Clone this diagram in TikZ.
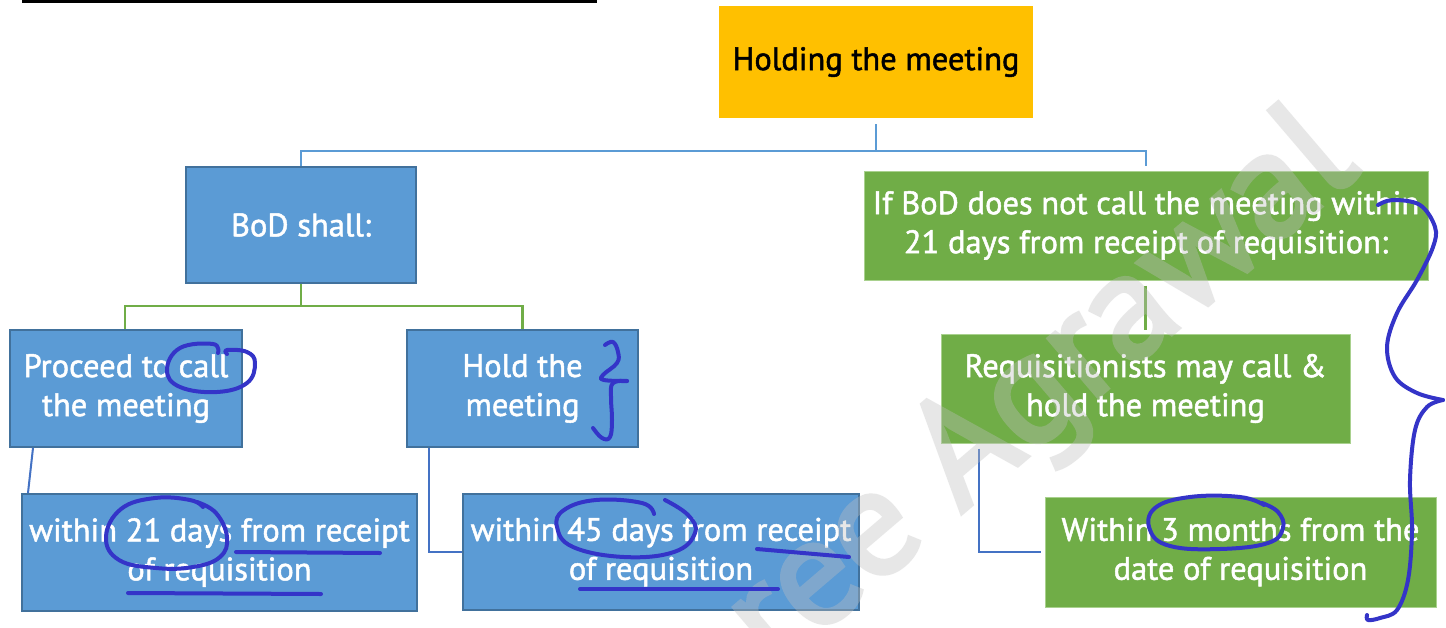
\documentclass[tikz,border=0pt]{standalone}
\usepackage{fontspec}
\setmainfont{PT Sans}
\newfontfamily\boxfont[FakeBold=1.5]{PT Sans}
\newfontfamily\markfont[FakeBold=3]{PT Sans}
\definecolor{boxblue}{HTML}{5B9BD5}
\definecolor{boxblueedge}{HTML}{41719C}
\definecolor{boxgreen}{HTML}{70AD47}
\definecolor{boxgreenedge}{HTML}{A9D18E}
\definecolor{boxorange}{HTML}{FFC000}
\definecolor{linkdark}{HTML}{4472C4}
\definecolor{ink}{HTML}{3434C8}
\definecolor{wmgray}{HTML}{BFBFBF}
\tikzset{
  box/.style={rectangle, inner sep=0pt, align=center,
    font=\boxfont\fontsize{32.5}{39}\selectfont, text=white},
  bluebox/.style={box, fill=boxblue, draw=boxblueedge, line width=2pt},
  greenbox/.style={box, fill=boxgreen, draw=boxgreenedge, line width=1pt},
  orangebox/.style={box, fill=boxorange, text=black},
  linkblue/.style={draw=boxblue, line width=2.5pt},
  linkgreen/.style={draw=boxgreen, line width=2.5pt},
  linklow/.style={draw=linkdark, line width=2pt},
  inkstroke/.style={draw=ink, line width=4pt, line cap=round, line join=round},
}
\begin{document}
\begin{tikzpicture}[x=1pt,y=-1pt]
\useasboundingbox (0,0) rectangle (1446,627);
\fill[white] (0,0) rectangle (1446,627);

% rule along the top edge
\draw[line width=3pt] (22,1.5) -- (597,1.5);

% boxes
\node[orangebox, minimum width=314pt, minimum height=112pt] (top) at (876,62) {Holding the meeting};
\node[bluebox, minimum width=230pt, minimum height=116pt] (bod) at (301,225) {BoD shall:};
\node[bluebox, minimum width=232pt, minimum height=117pt] (proc) at (126,388.5) {Proceed to call\\the meeting};
\node[bluebox, minimum width=231pt, minimum height=117pt] (hold) at (522.5,388.5) {Hold the\\meeting};
\node[bluebox, minimum width=395pt, minimum height=117pt] (wa) at (219.5,552.5) {within 21 days from receipt\\of requisition};
\node[bluebox, minimum width=396pt, minimum height=116pt] (wb) at (661,552) {within 45 days from receipt\\of requisition};
\node[greenbox, minimum width=564pt, minimum height=109pt] (ifbod) at (1146,225.5) {If BoD does not call the meeting within\\21 days from receipt of requisition:};
\node[greenbox, minimum width=409pt, minimum height=109pt] (req) at (1145.5,388.5) {Requisitionists may call \&\\hold the meeting};
\node[greenbox, minimum width=391pt, minimum height=110pt] (wc) at (1240.5,552) {Within 3 months from the\\date of requisition};

% connectors
\draw[linkblue] (top.south) ++(0,6) -- ++(0,27) -| (bod.north);
\draw[linkblue, shorten >=5pt] (top.south) ++(0,6) -- ++(0,27) -| (ifbod.north);
\draw[linkgreen] (bod.south) -- ++(0,22) -| ([xshift=-1pt]proc.north);
\draw[linkgreen] (bod.south) -- ++(0,22) -| (hold.north);
\draw[linklow] ([xshift=24pt]proc.south west) -- ([xshift=7pt]wa.north west);
\draw[linklow] ([xshift=23pt]hold.south west) |- (wb.west);
\draw[linkgreen] ([yshift=-5pt]ifbod.south -| req.north) -- ([yshift=4pt]req.north);
\draw[linklow] ([xshift=38pt,yshift=-5pt]req.south west) |- ([xshift=-4pt]wc.west);

% watermark, drawn as one translucent layer
\begin{scope}
\clip (0,0) rectangle (1446,627);
\begin{scope}[transparency group, opacity=0.36]
\node[rotate=40.5, anchor=base east, inner sep=0pt, text=wmgray,
  font=\markfont\fontsize{152}{152}\selectfont] (wm) at (1362,171) {ree Agrawal};
\end{scope}
\end{scope}

% handwritten marks
\draw[inkstroke] plot[smooth, tension=0.7] coordinates {(218,353) (213,344) (180,348) (167,370) (180,387) (217,392) (247,383) (255,363) (247,352) (227,350) (227,354)};
\draw[inkstroke] plot[smooth, tension=0.7] coordinates {(605,345) (613,342) (618,352) (617,363) (603,375) (604,380) (627,381)};
\draw[inkstroke] plot[smooth, tension=0.7] coordinates {(627,381) (613,383) (611,397) (612,420) (610,437) (602,438) (593,428)};
\draw[inkstroke] plot[smooth, tension=0.7] coordinates {(203,507) (190,500) (155,498) (121,509) (106,537) (119,560) (156,568) (193,567) (220,557) (227,537) (216,513) (197,502)};
\draw[inkstroke] (236,552) -- (380,553);
\draw[inkstroke] (128,593) -- (321,594);
\draw[inkstroke] plot[smooth, tension=0.7] coordinates {(654,514) (642,503) (596,500) (564,510) (557,527) (573,547) (624,557) (674,552) (695,533) (688,515) (665,500)};
\draw[inkstroke] (757,549) -- (849,557);
\draw[inkstroke] (580,589) -- (778,589);
\draw[inkstroke] plot[smooth, tension=0.7] coordinates {(1264,505) (1240,497) (1190,497) (1155,508) (1150,530) (1170,546) (1220,549) (1268,543) (1283,528) (1278,512) (1262,503)};
\draw[inkstroke] plot[smooth, tension=0.6] coordinates {(1378,205) (1393,200) (1420,205) (1435,227) (1433,247) (1417,280) (1397,313) (1387,347) (1395,377) (1417,393) (1443,400)};
\draw[inkstroke] plot[smooth, tension=0.6] coordinates {(1443,400) (1427,407) (1415,430) (1410,480) (1412,530) (1408,580) (1397,610) (1380,618) (1368,620) (1367,615)};
\end{tikzpicture}
\end{document}
